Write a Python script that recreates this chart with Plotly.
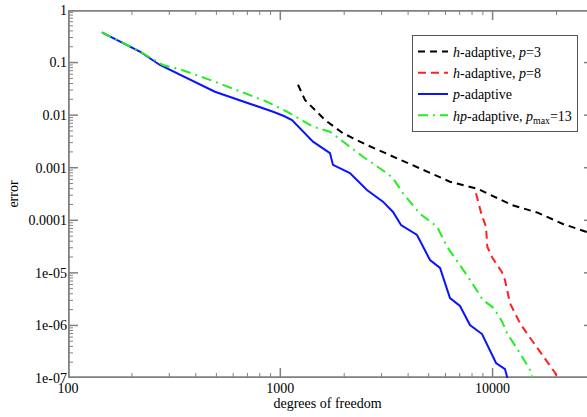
import math
import plotly.graph_objects as go

# ---- data ----
h3_dof = [1212, 1307, 1624, 1974, 2561, 3546, 5073, 6300, 8535, 12340, 16190, 21460, 27840, 30690]
h3_err = [0.0379, 0.0194, 0.00809, 0.00452, 0.00270, 0.00151, 0.000783, 0.000542, 0.000394,
          0.000195, 0.000141, 8.5e-5, 5.98e-5, 5.25e-5]

h8_dof = [8352, 8885, 9311, 9441, 10010, 11040, 11440, 12080, 13460, 14690, 19680, 20260]
h8_err = [0.000326, 0.000126, 7.55e-5, 3.14e-5, 1.89e-5, 1.05e-5, 7.31e-6, 2.64e-6, 1.10e-6,
          6.58e-7, 1.26e-7, 1.0e-7]

p_dof = [144.5, 218, 271, 476, 492, 925, 1040, 1135, 1426, 1714, 1771, 2128, 2559, 3045, 3396,
         3705, 4406, 5073, 5654, 6300, 7022, 7825, 8920, 10380, 11440, 11740]
p_err = [0.377, 0.1625, 0.090, 0.0307, 0.0279, 0.0116, 0.00963, 0.00809, 0.00313, 0.00190,
         0.00113, 0.000793, 0.000377, 0.000226, 0.000144, 8.1e-5, 5.25e-5, 1.75e-5, 1.24e-5,
         3.32e-6, 2.34e-6, 1.02e-6, 6.86e-7, 1.93e-7, 1.48e-7, 1.0e-7]

hp_dof = [144.5, 218, 280, 344, 492, 865, 1076, 1426, 1714, 2061, 2452, 3183, 3396, 3787, 4553,
          5475, 6101, 7653, 9014, 10160, 11090, 11700, 13470, 15180, 15410]
hp_err = [0.377, 0.1625, 0.090, 0.0722, 0.0433, 0.0180, 0.0116, 0.00603, 0.00484, 0.00270,
          0.00162, 0.000782, 0.000629, 0.000326, 0.000132, 7.55e-5, 3.15e-5, 8.45e-6, 3.04e-6,
          2.12e-6, 1.18e-6, 7.08e-7, 2.95e-7, 1.32e-7, 1.0e-7]

x_tickvals = [100, 1000, 10000]
x_ticktext = ["100", "1000", "10000"]
y_tickvals = [1, 0.1, 0.01, 0.001, 0.0001, 1e-5, 1e-6, 1e-7]
y_ticktext = ["1", "0.1", "0.01", "0.001", "0.0001", "1e-05", "1e-06", "1e-07"]

FONT = "Liberation Serif"
AX = "#808080"

W, H = 587, 417
ML, MR, MT, MB = 68, 0, 10, 39
PW, PH = W - ML - MR, H - MT - MB
XR = [2, 4.4447]
YR = [-7, 0]
XPD = PW / (XR[1] - XR[0])   # pixels per decade, x
YPD = PH / (YR[1] - YR[0])   # pixels per decade, y

fig = go.Figure()

# ---- axis frame and tick marks as helper line traces (derived from the axis ranges) ----
xmin, xmax = 10 ** XR[0], 10 ** XR[1]
ymin, ymax = 10 ** YR[0], 10 ** YR[1]


def xoff(px):
    return 10 ** (XR[0] + px / XPD)


def yoff(px):
    return 10 ** (YR[0] + px / YPD)


frame_x = [xoff(0.8), xoff(0.8), None, xmin, xmax, None, xmin, xmax]
frame_y = [ymin, ymax, None, yoff(0.8), yoff(0.8), None, 10 ** (YR[1] - 0.8 / YPD),
           10 ** (YR[1] - 0.8 / YPD)]

maj_x, maj_y, min_x, min_y = [], [], [], []
for e in range(2, 5):
    for m in range(1, 10):
        v = m * 10 ** e
        if v > xmax:
            continue
        ln = 10 if m == 1 else 5
        tx, ty = (maj_x, maj_y) if m == 1 else (min_x, min_y)
        tx += [v, v, None, v, v, None]
        ty += [ymin, yoff(ln), None, ymax, 10 ** (YR[1] - ln / YPD), None]
for e in range(-7, 1):
    for m in range(1, 10):
        v = m * 10.0 ** e
        if v > ymax * 1.0001:
            continue
        ln = 10 if m == 1 else 5
        tx, ty = (maj_x, maj_y) if m == 1 else (min_x, min_y)
        tx += [xmin, xoff(ln), None]
        ty += [v, v, None]
        if m == 1:
            maj_x += [10 ** (XR[1] - 3 / XPD), xmax, None]
            maj_y += [v, v, None]

for xs, ys, wd in ((min_x, min_y, 1), (maj_x, maj_y, 1.5), (frame_x, frame_y, 2)):
    fig.add_trace(go.Scatter(x=xs, y=ys, mode="lines", showlegend=False, hoverinfo="skip",
                             line=dict(color=AX, width=wd)))

# ---- data series ----
fig.add_trace(go.Scatter(x=h3_dof, y=h3_err, mode="lines", name="<i>h</i>-adaptive, <i>p</i>=3",
                         line=dict(color="black", width=2, dash="7px,5px")))
fig.add_trace(go.Scatter(x=h8_dof, y=h8_err, mode="lines", name="<i>h</i>-adaptive, <i>p</i>=8",
                         line=dict(color="#ff2020", width=2, dash="8px,5px")))
fig.add_trace(go.Scatter(x=p_dof, y=p_err, mode="lines", name="<i>p</i>-adaptive",
                         line=dict(color="#0a14ff", width=2)))
fig.add_trace(go.Scatter(x=hp_dof, y=hp_err, mode="lines",
                         name="<i>hp</i>-adaptive, <i>p</i><sub>max</sub>=13",
                         line=dict(color="#22ee22", width=2, dash="10px,5px,2px,5px")))

fig.update_xaxes(
    type="log", range=XR, automargin=False,
    showgrid=False, zeroline=False, showline=False, ticks="",
    tickmode="array", tickvals=x_tickvals, ticktext=x_ticktext,
    tickfont=dict(family=FONT, size=14, color="black"),
    title=dict(text="degrees of freedom", font=dict(family=FONT, size=14, color="black"),
               standoff=2),
)
fig.update_yaxes(
    type="log", range=YR, automargin=False,
    showgrid=False, zeroline=False, showline=False, ticks="",
    tickmode="array", tickvals=y_tickvals, ticktext=y_ticktext,
    tickfont=dict(family=FONT, size=14, color="black"),
    title=dict(text="error", font=dict(family=FONT, size=14, color="black"), standoff=6),
)

fig.update_layout(
    width=W, height=H,
    margin=dict(l=ML, r=MR, t=MT, b=MB),
    plot_bgcolor="white", paper_bgcolor="white",
    font=dict(family=FONT, size=14, color="black"),
    showlegend=True,
    legend=dict(x=(578 - ML) / PW, y=(H - MB - 35) / PH, xanchor="right", yanchor="top",
                bgcolor="white", bordercolor="#555555", borderwidth=1,
                font=dict(family=FONT, size=14, color="black")),
)

fig.write_html("out.html")
